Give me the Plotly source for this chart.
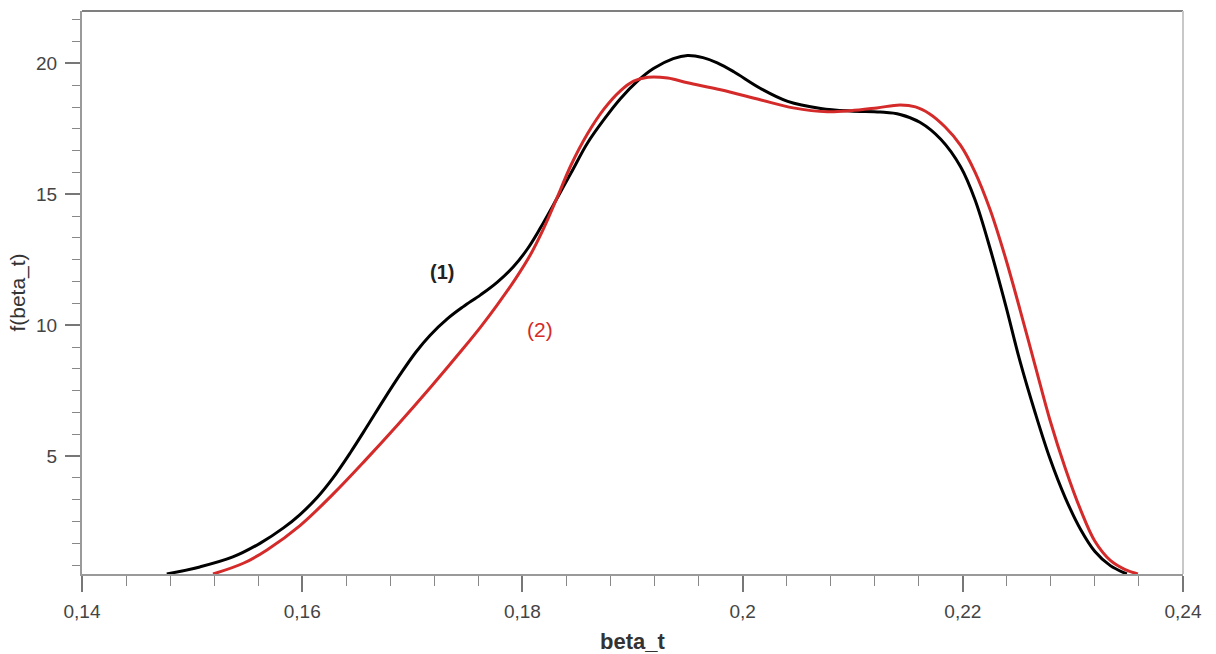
import plotly.graph_objects as go

# Curve (1) - black
x1 = [0.1477, 0.1507, 0.1537, 0.1562, 0.1583, 0.1598, 0.1614, 0.1628, 0.1644, 0.1659,
      0.1674, 0.1689, 0.1703, 0.1716, 0.1732, 0.1746, 0.1762, 0.1777, 0.1792, 0.1805,
      0.1816, 0.1832, 0.1844, 0.1859, 0.1874, 0.1889, 0.1904, 0.1919, 0.1937, 0.1950,
      0.1964, 0.1977, 0.1992, 0.2016, 0.2041, 0.2071, 0.2098, 0.2125, 0.2143, 0.2161,
      0.2180, 0.2198, 0.2211, 0.2225, 0.2239, 0.2252, 0.2266, 0.2279, 0.2293, 0.2307,
      0.2320, 0.2334, 0.2349]
y1 = [0.50, 0.77, 1.15, 1.68, 2.26, 2.77, 3.44, 4.17, 5.15, 6.14,
      7.15, 8.12, 8.96, 9.61, 10.25, 10.70, 11.16, 11.64, 12.24, 12.94,
      13.69, 14.89, 15.80, 16.95, 17.85, 18.65, 19.30, 19.80, 20.18, 20.30,
      20.22, 20.02, 19.68, 19.05, 18.55, 18.28, 18.18, 18.14, 18.05, 17.75,
      17.10, 16.05, 14.80, 12.90, 10.75, 8.62, 6.62, 4.93, 3.42, 2.20,
      1.36, 0.82, 0.50]

# Curve (2) - red
x2 = [0.1519, 0.1547, 0.1568, 0.1598, 0.1628, 0.1657, 0.1687, 0.1717, 0.1746, 0.1762,
      0.1777, 0.1794, 0.1807, 0.1819, 0.1832, 0.1844, 0.1859, 0.1874, 0.1889, 0.1901,
      0.1914, 0.1932, 0.1950, 0.1980, 0.2016, 0.2046, 0.2077, 0.2098, 0.2122, 0.2143,
      0.2157, 0.2170, 0.2184, 0.2198, 0.2211, 0.2225, 0.2239, 0.2252, 0.2266, 0.2279,
      0.2293, 0.2307, 0.2320, 0.2334, 0.2347, 0.2359]
y2 = [0.50, 0.92, 1.42, 2.35, 3.55, 4.83, 6.21, 7.65, 9.10, 9.93,
      10.77, 11.79, 12.67, 13.67, 14.92, 16.10, 17.30, 18.25, 18.95, 19.32,
      19.47, 19.44, 19.26, 18.99, 18.61, 18.30, 18.15, 18.19, 18.30, 18.41,
      18.34, 18.07, 17.57, 16.87, 15.86, 14.39, 12.54, 10.59, 8.41, 6.40,
      4.55, 2.95, 1.75, 1.02, 0.68, 0.50]

x_ticks = [0.14, 0.16, 0.18, 0.20, 0.22, 0.24]
x_ticklabels = ["0,14", "0,16", "0,18", "0,2", "0,22", "0,24"]
y_ticks = [5, 10, 15, 20]
y_ticklabels = ["5", "10", "15", "20"]

RED = "#d42a2a"
FONT = "Liberation Sans, Arial, sans-serif"

fig = go.Figure()
fig.add_trace(go.Scatter(x=x1, y=y1, mode="lines",
                         line=dict(color="#000000", width=3, shape="spline", smoothing=1.0),
                         showlegend=False, hoverinfo="skip"))
fig.add_trace(go.Scatter(x=x2, y=y2, mode="lines",
                         line=dict(color=RED, width=3, shape="spline", smoothing=1.0),
                         showlegend=False, hoverinfo="skip"))

fig.add_annotation(x=0.1727, y=12.03, text="<b>(1)</b>", showarrow=False,
                   font=dict(family=FONT, size=20, color="#222222"))
fig.add_annotation(x=0.1816, y=9.82, text="(2)", showarrow=False,
                   font=dict(family=FONT, size=21, color=RED))

# frame: top and right lines
fig.add_shape(type="line", xref="paper", yref="paper", x0=0, x1=1, y0=1, y1=1,
              line=dict(color="#555555", width=1.5))
fig.add_shape(type="line", xref="paper", yref="paper", x0=1, x1=1, y0=0, y1=1,
              line=dict(color="#c8c8c8", width=2))

fig.update_layout(
    width=1216, height=654,
    margin=dict(l=82, r=33, t=11, b=80, autoexpand=False),
    paper_bgcolor="white", plot_bgcolor="white",
    font=dict(family=FONT, size=19, color="#444444"),
    xaxis=dict(
        range=[0.14, 0.24], showgrid=False, zeroline=False,
        showline=True, linecolor="#9a9a9a", linewidth=2,
        tickmode="array", tickvals=x_ticks, ticktext=x_ticklabels,
        ticks="outside", ticklen=16, tickwidth=1.5, tickcolor="#777777",
        ticklabelstandoff=3,
        minor=dict(ticks="outside", ticklen=10, tickwidth=1.2, tickcolor="#888888",
                   tick0=0.14, dtick=0.004, showgrid=False),
        title=dict(text="<b>beta_t</b>", font=dict(family=FONT, size=22, color="#333333"),
                   standoff=13),
        automargin=False,
    ),
    yaxis=dict(
        range=[0.5, 22], showgrid=False, zeroline=False,
        showline=True, linecolor="#9a9a9a", linewidth=2,
        tickmode="array", tickvals=y_ticks, ticktext=y_ticklabels,
        ticks="outside", ticklen=15, tickwidth=1.5, tickcolor="#777777",
        ticklabelstandoff=4,
        minor=dict(ticks="outside", ticklen=8, tickwidth=1.2, tickcolor="#888888",
                   tick0=0, dtick=5/6, showgrid=False),
        title=dict(text="f(beta_t)", font=dict(family=FONT, size=21, color="#333333"),
                   standoff=5),
        automargin=False,
    ),
)

fig.write_html("out.html")
